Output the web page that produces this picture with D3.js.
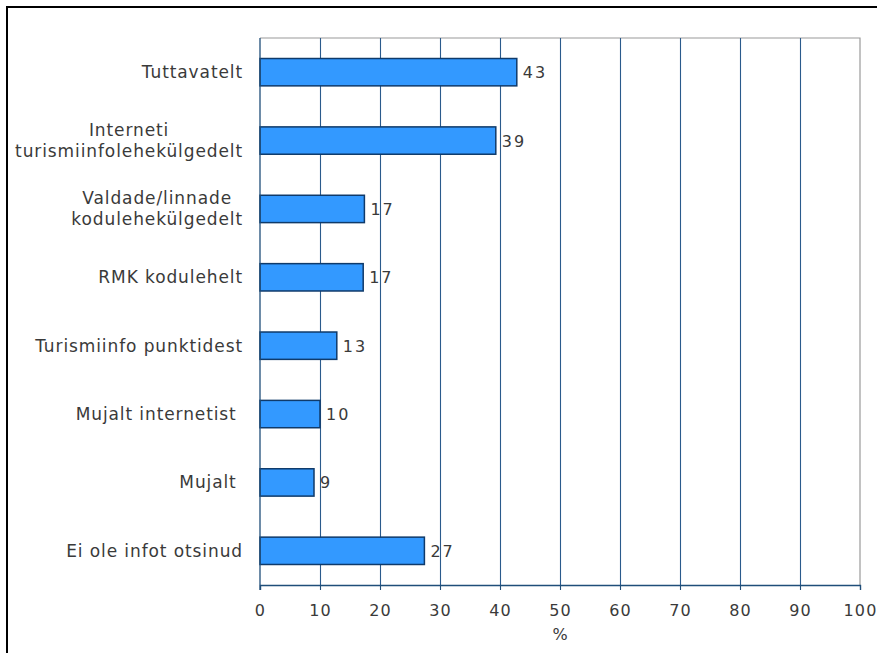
<!DOCTYPE html>
<html>
<head>
<meta charset="utf-8">
<script src="https://cdn.jsdelivr.net/npm/d3@7.9.0/dist/d3.min.js"></script>
<style>
  body { margin: 0; background: #fff; }
  svg text { font-family: "DejaVu Sans", Verdana, sans-serif; fill: #3a3a3a; white-space: pre; }
</style>
</head>
<body>
<svg id="chart" width="877" height="653"></svg>
<script>
const categories = [
  ["Tuttavatelt"],
  ["Interneti", "turismiinfolehekülgedelt"],
  ["Valdade/linnade", "kodulehekülgedelt"],
  ["RMK kodulehelt"],
  ["Turismiinfo punktidest"],
  ["Mujalt internetist "],
  ["Mujalt "],
  ["Ei ole infot otsinud"],
];
const values = [42.8, 39.3, 17.4, 17.2, 12.8, 10.0, 9.0, 27.4];
const xTicks = [0, 10, 20, 30, 40, 50, 60, 70, 80, 90, 100];
const xTitle = "%";

const svg = d3.select("#chart");
const margin = { left: 260, right: 17, top: 38, bottom: 68 };
const width = 877;
const height = 653;

// outer frame, runs off the right and bottom edges
svg.append("rect")
  .attr("x", 7).attr("y", 7)
  .attr("width", 900).attr("height", 700)
  .attr("fill", "none").attr("stroke", "#000").attr("stroke-width", 2);

const x = d3.scaleLinear().domain([0, 100]).range([margin.left, width - margin.right]);
const y = d3.scaleBand()
  .domain(d3.range(categories.length))
  .range([margin.top, height - margin.bottom])
  .paddingInner(0.6)
  .paddingOuter(0.3);

const plotBottom = height - margin.bottom;

// plot border (top + right)
svg.append("path")
  .attr("d", `M${x(0)},${margin.top}H${x(100)}V${plotBottom}`)
  .attr("fill", "none").attr("stroke", "#9a9a9a").attr("stroke-width", 1.2);

// gridlines
svg.append("g")
  .selectAll("line")
  .data(xTicks.slice(1, -1))
  .join("line")
  .attr("x1", (d) => Math.round(x(d)) + 0.5)
  .attr("x2", (d) => Math.round(x(d)) + 0.5)
  .attr("y1", margin.top)
  .attr("y2", plotBottom)
  .attr("stroke", "#2a5a8c")
  .attr("stroke-width", 1.1);

// bars
svg.append("g")
  .selectAll("rect")
  .data(values)
  .join("rect")
  .attr("x", x(0))
  .attr("y", (d, i) => y(i))
  .attr("width", (d) => x(d) - x(0))
  .attr("height", y.bandwidth())
  .attr("fill", "#3399ff")
  .attr("stroke", "#0f3a6a")
  .attr("stroke-width", 1.5);

// value labels
const fmt = d3.format(".0f");
svg.append("g")
  .selectAll("text")
  .data(values)
  .join("text")
  .attr("x", (d) => x(d) + 6)
  .attr("y", (d, i) => y(i) + y.bandwidth() / 2 + 6)
  .attr("font-size", 16)
  .attr("letter-spacing", 2)
  .text((d) => fmt(d));

// x axis
const xAxis = d3.axisBottom(x).tickValues(xTicks).tickSize(5).tickPadding(15);
const ax = svg.append("g")
  .attr("transform", `translate(0,${plotBottom})`)
  .call(xAxis);
ax.select(".domain").attr("stroke", "#1f4e79").attr("stroke-width", 1.3);
ax.selectAll(".tick line").attr("stroke", "#1f4e79").attr("stroke-width", 1.1);
ax.selectAll(".tick text")
  .attr("font-size", 16)
  .attr("letter-spacing", 1.2)
  .attr("fill", "#3a3a3a")
  .attr("font-family", "DejaVu Sans, Verdana, sans-serif");

// left axis line
svg.append("line")
  .attr("x1", x(0)).attr("x2", x(0))
  .attr("y1", margin.top).attr("y2", plotBottom + 5)
  .attr("stroke", "#1f4e79").attr("stroke-width", 1.3);

svg.append("text")
  .attr("x", x(50))
  .attr("y", 640)
  .attr("text-anchor", "middle")
  .attr("font-size", 16)
  .text(xTitle);

// category labels: each block centred, right edge at 243
const lineH = 21;
const labels = svg.append("g");
categories.forEach((lines, i) => {
  const t = labels.append("text")
    .attr("font-size", 17)
    .attr("letter-spacing", 0.9)
    .attr("text-anchor", "middle");
  const cy = y(i) + y.bandwidth() / 2;
  const y0 = cy - ((lines.length - 1) * lineH) / 2 + 6;
  const spans = lines.map((ln, k) =>
    t.append("tspan").attr("y", y0 + k * lineH).text(ln)
  );
  const maxW = d3.max(spans, (s) => s.node().getComputedTextLength());
  spans.forEach((s) => s.attr("x", 243 - maxW / 2));
});
</script>
</body>
</html>
